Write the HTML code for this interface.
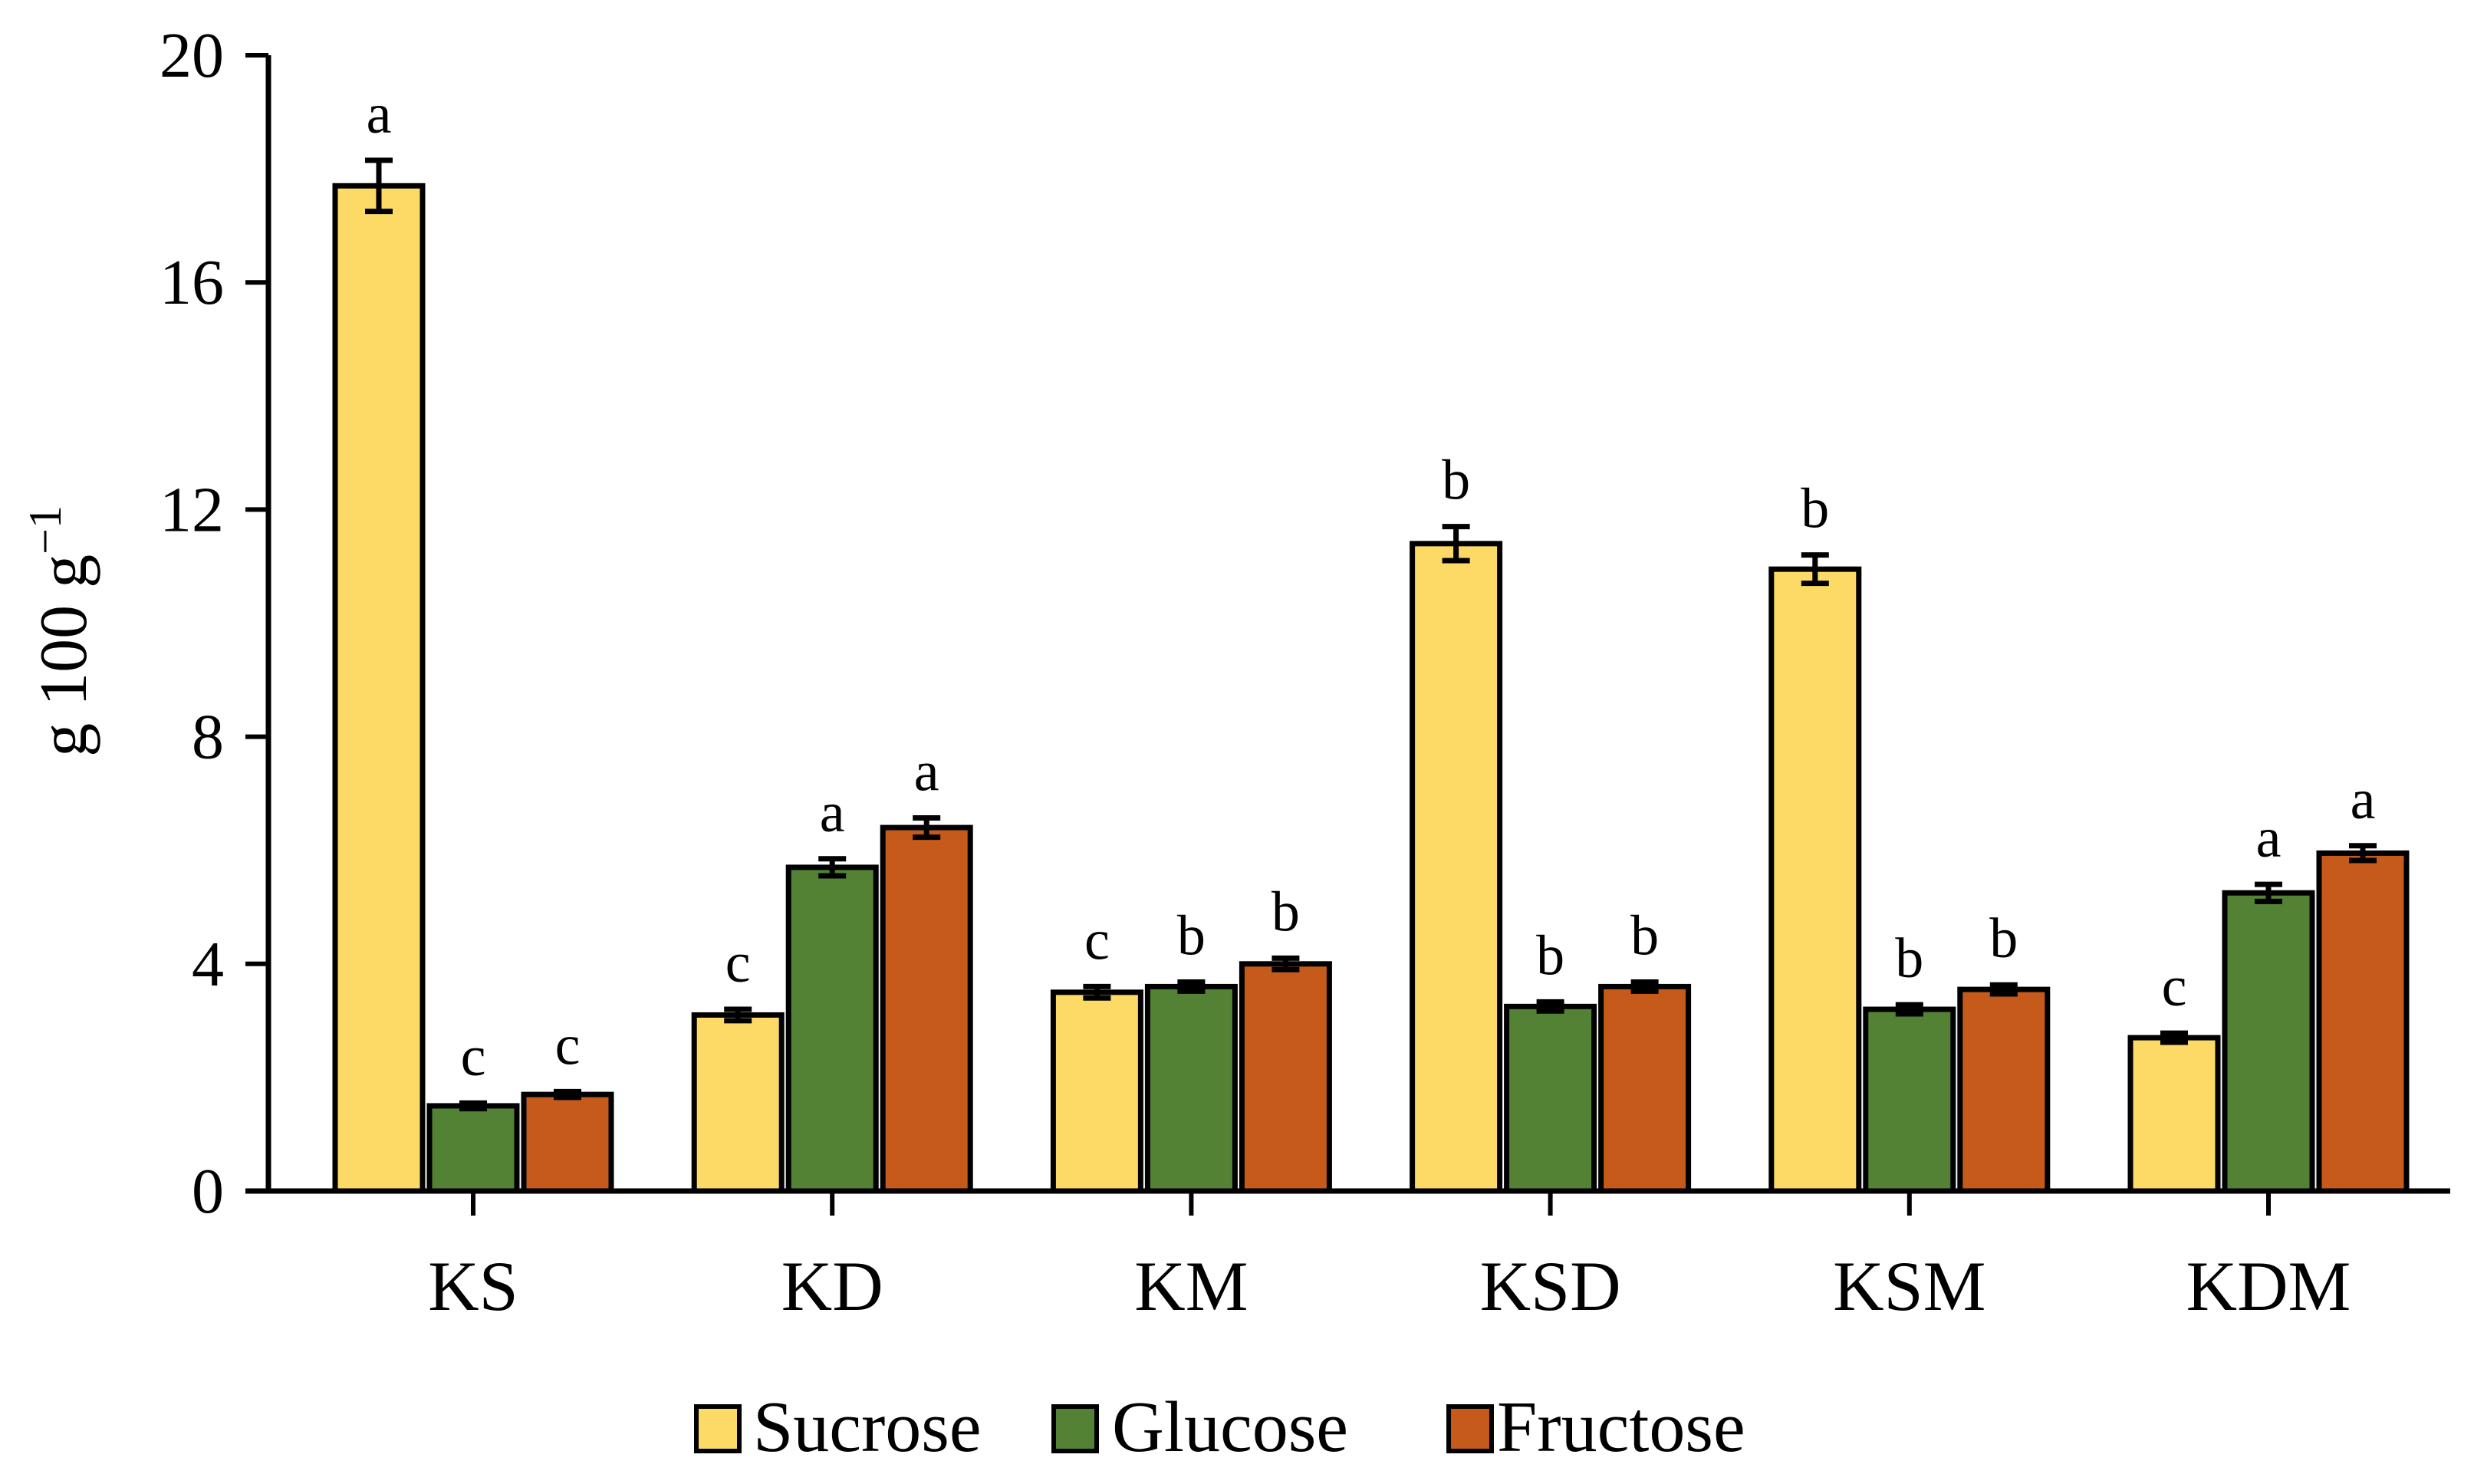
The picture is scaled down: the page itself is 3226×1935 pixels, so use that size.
<!DOCTYPE html>
<html><head><meta charset="utf-8"><style>
body{margin:0;background:#fff}
svg{display:block;font-family:"Liberation Serif",serif}
</style></head><body>
<svg id="chart" width="3226" height="1935" viewBox="0 0 3226 1935">
<g id="axes"></g><g id="bars"></g>
<text transform="translate(112,823) rotate(-90)" text-anchor="middle" font-size="88">g 100 g<tspan baseline-shift="super" font-size="60">−1</tspan></text>
<g font-size="94">
<rect x="908" y="1834" width="56" height="58" fill="#FDD966" stroke="#000" stroke-width="6"/>
<text x="982" y="1892">Sucrose</text>
<rect x="1374" y="1834" width="56" height="58" fill="#548235" stroke="#000" stroke-width="6"/>
<text x="1450" y="1892">Glucose</text>
<rect x="1889" y="1834" width="56" height="58" fill="#C55A1A" stroke="#000" stroke-width="6"/>
<text x="1952" y="1892">Fructose</text>
</g>
</svg>
<script>
const categories=["KS","KD","KM","KSD","KSM","KDM"];
const sucrose=[17.7,3.1,3.5,11.4,10.95,2.7];
const glucose=[1.5,5.7,3.6,3.25,3.2,5.25];
const fructose=[1.7,6.4,4.0,3.6,3.55,5.95];
const sucroseErr=[0.45,0.1,0.1,0.3,0.25,0.08];
const glucoseErr=[0.05,0.15,0.08,0.08,0.08,0.15];
const fructoseErr=[0.05,0.17,0.1,0.08,0.08,0.13];
const sucroseLetters=["a","c","c","b","b","c"];
const glucoseLetters=["c","a","b","b","b","a"];
const fructoseLetters=["c","a","b","b","b","a"];
const yTicks=[0,4,8,12,16,20];
const NS="http://www.w3.org/2000/svg";
const x0=350,x1=3195,y0=1553,yTop=72;
function y(v){return y0-(v/20)*(y0-yTop);}
function cx(i){return 617+i*468.2;}
function mk(t,a,p){const e=document.createElementNS(NS,t);for(const k in a)e.setAttribute(k,a[k]);p.appendChild(e);return e;}
const ax=document.getElementById('axes'),bg=document.getElementById('bars');
const yl=mk('line',{x1:x0,y1:yTop,x2:x0,y2:y0,stroke:'#000','stroke-width':7},ax);


yTicks.forEach(v=>{
 const t=mk('line',{x1:x0-30,y1:y(v),x2:x0,y2:y(v),stroke:'#000','stroke-width':6},ax);
 
 
 const l=mk('text',{x:x0-58,y:y(v)+28,'text-anchor':'end','font-size':84},ax);l.textContent=v;
 
 
});
categories.forEach((c,i)=>{
 const t=mk('line',{x1:cx(i),y1:y0,x2:cx(i),y2:y0+32,stroke:'#000','stroke-width':6},ax);
 
 
 const l=mk('text',{x:cx(i),y:1708,'text-anchor':'middle','font-size':92},ax);l.textContent=c;
 
 
});
const series=[[sucrose,sucroseErr,sucroseLetters,'#FDD966','sucrose'],[glucose,glucoseErr,glucoseLetters,'#548235','glucose'],[fructose,fructoseErr,fructoseLetters,'#C55A1A','fructose']];
series.forEach((s,si)=>{
 s[0].forEach((v,i)=>{
  const bx=cx(i)+(si-1)*123-57;
  const r=mk('rect',{x:bx,y:y(v),width:114,height:y0-y(v),fill:s[3],stroke:'#000','stroke-width':7},bg);
  
  
  const m=bx+57,e=s[1][i];
  const eb=mk('path',{d:`M${m-18},${y(v+e)}H${m+18}M${m},${y(v+e)}V${y(v-e)}M${m-18},${y(v-e)}H${m+18}`,stroke:'#000','stroke-width':7,fill:'none'},bg);
  
  
  const lt=mk('text',{x:m,y:y(v+e)-36,'text-anchor':'middle','font-size':74},bg);lt.textContent=s[2][i];
  
  
 });
});
const xl=mk('line',{x1:x0-30,y1:y0,x2:x1,y2:y0,stroke:'#000','stroke-width':7},ax);


</script>
</body></html>
